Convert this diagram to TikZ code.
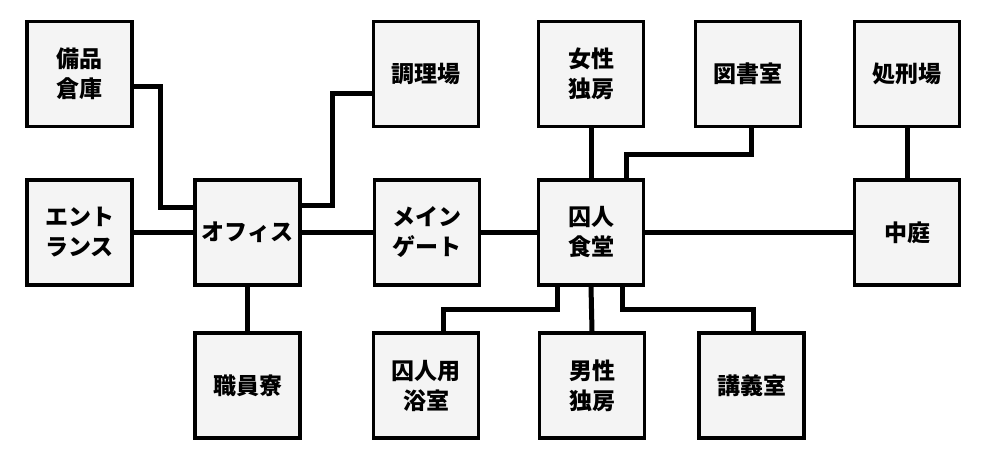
\documentclass[tikz,border=0pt]{standalone}
\usepackage{fontspec}
\setmainfont{Noto Sans CJK JP}
\definecolor{boxgray}{HTML}{F4F4F4}
\tikzset{
  room/.style={draw=black, line width=3.5pt, fill=boxgray, minimum width=105pt, minimum height=105pt, inner sep=0pt, align=center, font=\bfseries\fontsize{23}{30}\selectfont},
  conn/.style={draw=black, line width=5pt, line cap=rect},
}
\begin{document}
\begin{tikzpicture}[x=1pt, y=-1pt]
\useasboundingbox (0,0) rectangle (987,462);
% nodes
\node[room] (bihin) at (79.5,74) {備品\\倉庫};
\node[room] (entr) at (79.5,232.5) {エント\\ランス};
\node[room] (office) at (247.5,232.5) {オフィス};
\node[room] (staff) at (247.5,385.5) {職員寮};
\node[room] (cook) at (426,74) {調理場};
\node[room] (main) at (427,232.5) {メイン\\ゲート};
\node[room] (bath) at (426,385.5) {囚人用\\浴室};
\node[room] (female) at (591,74) {女性\\独房};
\node[room] (dining) at (591,232.5) {囚人\\食堂};
\node[room] (male) at (592,385.5) {男性\\独房};
\node[room] (lib) at (748,74) {図書室};
\node[room] (lect) at (751.5,385.5) {講義室};
\node[room] (exec) at (907,74) {処刑場};
\node[room] (court) at (907,232.5) {中庭};
% connectors
\draw[conn] ([yshift=-13pt]bihin.east) -| ([xshift=-33pt,yshift=24.5pt]office.west) -- ([yshift=24.5pt]office.west);
\draw[conn] (entr.east) -- (office.west);
\draw[conn] ([yshift=26.5pt]office.east) -| ([xshift=-39pt,yshift=-20pt]cook.west) -- ([yshift=-20pt]cook.west);
\draw[conn] (office.east) -- (main.west);
\draw[conn] (main.east) -- (dining.west);
\draw[conn] (dining.east) -- (court.west);
\draw[conn] (office.south) -- (staff.north);
\draw[conn] (female.south) -- (dining.north);
\draw[conn] (exec.south) -- (court.north);
\draw[conn] (dining.south) -- (male.north);
\draw[conn] ([xshift=35pt]dining.north) |- ([xshift=3pt,yshift=-26pt]lib.south) -- ([xshift=3pt]lib.south);
\draw[conn] ([xshift=-34pt]dining.south) |- ([xshift=17pt,yshift=22pt]bath.north) -- ([xshift=17pt]bath.north);
\draw[conn] ([xshift=31pt]dining.south) |- ([xshift=1.5pt,yshift=22pt]lect.north) -- ([xshift=1.5pt]lect.north);
\end{tikzpicture}
\end{document}
